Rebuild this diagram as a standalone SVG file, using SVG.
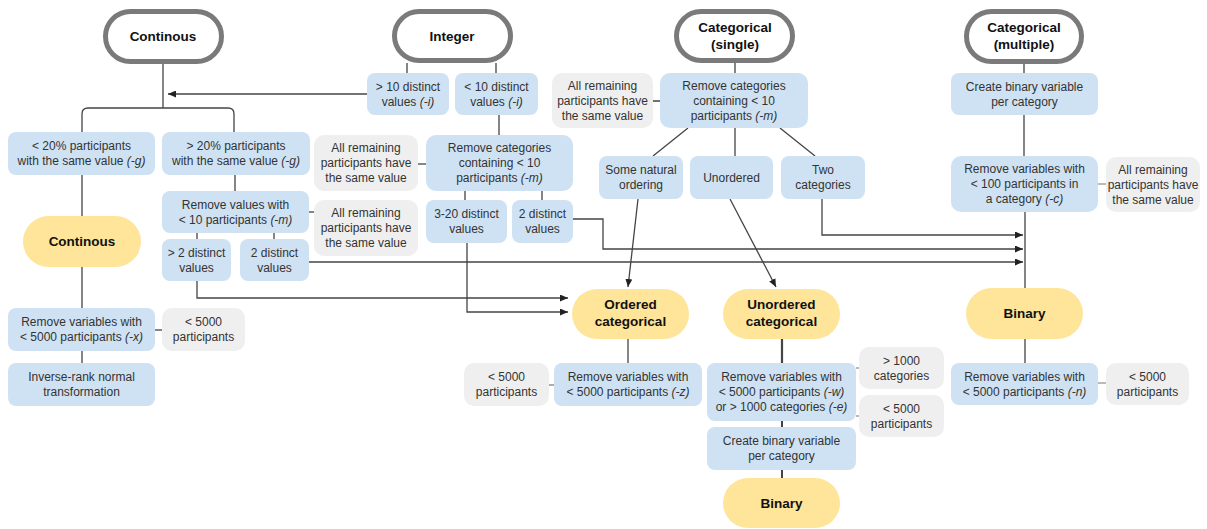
<svg xmlns="http://www.w3.org/2000/svg" width="1207" height="529" viewBox="0 0 1207 529">
<defs>
<marker id="ah" markerUnits="userSpaceOnUse" markerWidth="9" markerHeight="7" refX="8" refY="3.5" orient="auto"><path d="M0,0 L8,3.5 L0,7 Z" fill="#222"/></marker>
<style>
.b{fill:#cfe2f3}
.g{fill:#efefef}
.y{fill:#fee59a}
.t{fill:#fff;stroke:#7a7a7a;stroke-width:5}
text{font-family:"Liberation Sans",Arial,Helvetica,sans-serif;font-size:12px;fill:#333;text-anchor:middle}
.h{font-size:13.5px;font-weight:bold;fill:#111}
.i{font-style:italic}
.c{fill:none;stroke:#444;stroke-width:1.3}
.cl{fill:none;stroke:#777;stroke-width:1.2}
.a{marker-end:url(#ah)}
</style>
</defs>
<rect width="1207" height="529" fill="#fff"/>
<g id="connectors">
<path class="c" d="M163,64 V108"/>
<path class="c" d="M82,132 V114 Q82,108 88,108 H228 Q234,108 234,114 V132"/>
<path class="c a" d="M367,94 H168"/>
<path class="c" d="M82,175 V216 M82,267 V308 M82,351 V363"/>
<path class="c" d="M155,330 H162"/>
<path class="c" d="M235,175 V191 M197,233 V239 M274,233 V239"/>
<path class="c" d="M309,212 H314"/>
<path class="c a" d="M197,281 V298 H568"/>
<path class="c a" d="M309,262 H1023"/>
<path class="c" d="M407,63 V73 M496,63 V73 M499,115 V135"/>
<path class="c" d="M418,164 H426"/>
<path class="c" d="M465,191 V200 M542,191 V200"/>
<path class="c a" d="M467,243 V312 H568"/>
<path class="c a" d="M573,219 H603 V249 H1023"/>
<path class="c" d="M735,63 V73 M653,101 H660"/>
<path class="c" d="M688,128 L653,156 M735,128 V156 M780,128 L815,156"/>
<path class="c a" d="M638,199 L628,287"/>
<path class="c a" d="M730,199 L776,287"/>
<path class="c a" d="M822,199 V235 H1023"/>
<path class="c" d="M628,339 V363"/>
<path class="cl" d="M549,385 H554"/>
<path class="c" d="M782,338 V363" style="stroke-width:2.2"/>
<path class="cl" d="M856,368 H859 M856,416 H859"/>
<path class="c" d="M782,421 V427 M782,470 V478" style="stroke-width:2"/>
<path class="c" d="M1024,64 V73 M1024,115 V156 M1025,212 V288 M1025,339 V363"/>
<path class="cl" d="M1098,184 H1106 M1098,383 H1106"/>
</g>
<g id="term-continous"><rect class="t" x="105.5" y="11.5" width="116" height="50" rx="25"/><text class="h" x="163" y="41">Continous</text></g>
<g id="term-integer"><rect class="t" x="394.5" y="11.5" width="116" height="49" rx="24.5"/><text class="h" x="452" y="41">Integer</text></g>
<g id="term-cat-single"><rect class="t" x="676.5" y="11.5" width="116" height="49" rx="24.5"/><text class="h" x="735" y="32">Categorical</text><text class="h" x="735" y="49">(single)</text></g>
<g id="term-cat-multiple"><rect class="t" x="966.5" y="11.5" width="115" height="50" rx="25"/><text class="h" x="1024" y="32">Categorical</text><text class="h" x="1024" y="49">(multiple)</text></g>

<g id="lt20"><rect class="b" x="8" y="132" width="147" height="43" rx="8"/><text x="81.5" y="150.2">&lt; 20% participants</text><text x="81.5" y="165.2">with the same value <tspan class="i">(-g)</tspan></text></g>
<g id="gt20"><rect class="b" x="162" y="132" width="148" height="43" rx="8"/><text x="236" y="150.2">&gt; 20% participants</text><text x="236" y="165.2">with the same value <tspan class="i">(-g)</tspan></text></g>
<g id="rm-values10"><rect class="b" x="162" y="191" width="147" height="42" rx="8"/><text x="235.5" y="208.7">Remove values with</text><text x="235.5" y="223.7">&lt; 10 participants <tspan class="i">(-m)</tspan></text></g>
<g id="same1"><rect class="g" x="314" y="135" width="104" height="56" rx="10"/><text x="366" y="152.2">All remaining</text><text x="366" y="167.2">participants have</text><text x="366" y="182.2">the same value</text></g>
<g id="same2"><rect class="g" x="314" y="200" width="104" height="56" rx="10"/><text x="366" y="217.2">All remaining</text><text x="366" y="232.2">participants have</text><text x="366" y="247.2">the same value</text></g>
<g id="gt2"><rect class="b" x="162" y="239" width="69" height="42" rx="8"/><text x="196.5" y="256.7">&gt; 2 distinct</text><text x="196.5" y="271.7">values</text></g>
<g id="dist2-c"><rect class="b" x="240" y="239" width="69" height="42" rx="8"/><text x="274.5" y="256.7">2 distinct</text><text x="274.5" y="271.7">values</text></g>
<g id="continous"><rect class="y" x="23" y="216" width="118" height="51" rx="25.5"/><text class="h" x="82" y="246.3">Continous</text></g>
<g id="rm5000x"><rect class="b" x="8" y="308" width="147" height="43" rx="8"/><text x="81.5" y="326.2">Remove variables with</text><text x="81.5" y="341.2">&lt; 5000 participants <tspan class="i">(-x)</tspan></text></g>
<g id="p5000x"><rect class="g" x="162" y="308" width="83" height="43" rx="10"/><text x="203.5" y="326.2">&lt; 5000</text><text x="203.5" y="341.2">participants</text></g>
<g id="irnt"><rect class="b" x="8" y="363" width="147" height="43" rx="8"/><text x="81.5" y="381.2">Inverse-rank normal</text><text x="81.5" y="396.2">transformation</text></g>

<g id="gt10"><rect class="b" x="367" y="73" width="82" height="42" rx="8"/><text x="408" y="90.7">&gt; 10 distinct</text><text x="408" y="105.7">values <tspan class="i">(-i)</tspan></text></g>
<g id="lt10"><rect class="b" x="455" y="73" width="83" height="42" rx="8"/><text x="496.5" y="90.7">&lt; 10 distinct</text><text x="496.5" y="105.7">values <tspan class="i">(-i)</tspan></text></g>
<g id="rmcat-int"><rect class="b" x="426" y="135" width="147" height="56" rx="10"/><text x="499.5" y="152.2">Remove categories</text><text x="499.5" y="167.2">containing &lt; 10</text><text x="499.5" y="182.2">participants <tspan class="i">(-m)</tspan></text></g>
<g id="d320"><rect class="b" x="426" y="200" width="81" height="43" rx="8"/><text x="466.5" y="218.2">3-20 distinct</text><text x="466.5" y="233.2">values</text></g>
<g id="dist2-i"><rect class="b" x="512" y="200" width="61" height="43" rx="8"/><text x="542.5" y="218.2">2 distinct</text><text x="542.5" y="233.2">values</text></g>

<g id="same3"><rect class="g" x="552" y="73" width="101" height="55" rx="10"/><text x="602.5" y="89.7">All remaining</text><text x="602.5" y="104.7">participants have</text><text x="602.5" y="119.7">the same value</text></g>
<g id="rmcat-single"><rect class="b" x="660" y="73" width="148" height="55" rx="10"/><text x="734" y="89.7">Remove categories</text><text x="734" y="104.7">containing &lt; 10</text><text x="734" y="119.7">participants <tspan class="i">(-m)</tspan></text></g>
<g id="natural"><rect class="b" x="599" y="156" width="84" height="43" rx="8"/><text x="641" y="174.2">Some natural</text><text x="641" y="189.2">ordering</text></g>
<g id="unordered"><rect class="b" x="690" y="156" width="83" height="43" rx="8"/><text x="731.5" y="181.7">Unordered</text></g>
<g id="two"><rect class="b" x="781" y="156" width="84" height="43" rx="8"/><text x="823" y="174.2">Two</text><text x="823" y="189.2">categories</text></g>
<g id="ordered-cat"><rect class="y" x="572" y="289" width="117" height="50" rx="25"/><text class="h" x="630.5" y="309.3">Ordered</text><text class="h" x="630.5" y="326.3">categorical</text></g>
<g id="unordered-cat"><rect class="y" x="723" y="289" width="117" height="50" rx="25"/><text class="h" x="781.5" y="309.3">Unordered</text><text class="h" x="781.5" y="326.3">categorical</text></g>
<g id="rm5000z"><rect class="b" x="554" y="363" width="148" height="43" rx="8"/><text x="628" y="381.2">Remove variables with</text><text x="628" y="396.2">&lt; 5000 participants <tspan class="i">(-z)</tspan></text></g>
<g id="p5000z"><rect class="g" x="464" y="363" width="85" height="43" rx="10"/><text x="506.5" y="381.2">&lt; 5000</text><text x="506.5" y="396.2">participants</text></g>
<g id="rm5000we"><rect class="b" x="707" y="363" width="149" height="58" rx="8"/><text x="781.5" y="381.2">Remove variables with</text><text x="781.5" y="396.2">&lt; 5000 participants <tspan class="i">(-w)</tspan></text><text x="781.5" y="411.2">or &gt; 1000 categories <tspan class="i">(-e)</tspan></text></g>
<g id="c1000"><rect class="g" x="859" y="347" width="85" height="42" rx="10"/><text x="901.5" y="364.7">&gt; 1000</text><text x="901.5" y="379.7">categories</text></g>
<g id="p5000w"><rect class="g" x="859" y="395" width="85" height="42" rx="10"/><text x="901.5" y="412.7">&lt; 5000</text><text x="901.5" y="427.7">participants</text></g>
<g id="createbin2"><rect class="b" x="707" y="427" width="149" height="43" rx="8"/><text x="781.5" y="445.2">Create binary variable</text><text x="781.5" y="460.2">per category</text></g>
<g id="binary2"><rect class="y" x="723" y="478" width="117" height="50" rx="25"/><text class="h" x="781.5" y="507.8">Binary</text></g>

<g id="createbin"><rect class="b" x="951" y="73" width="147" height="42" rx="8"/><text x="1024.5" y="90.7">Create binary variable</text><text x="1024.5" y="105.7">per category</text></g>
<g id="rm100"><rect class="b" x="951" y="156" width="147" height="56" rx="10"/><text x="1024.5" y="173.2">Remove variables with</text><text x="1024.5" y="188.2">&lt; 100 participants in</text><text x="1024.5" y="203.2">a category <tspan class="i">(-c)</tspan></text></g>
<g id="same4"><rect class="g" x="1106" y="157" width="94" height="55" rx="10"/><text x="1153" y="173.7">All remaining</text><text x="1153" y="188.7">participants have</text><text x="1153" y="203.7">the same value</text></g>
<g id="binary"><rect class="y" x="966" y="288" width="117" height="51" rx="25.5"/><text class="h" x="1024.5" y="318.3">Binary</text></g>
<g id="rm5000n"><rect class="b" x="951" y="363" width="147" height="42" rx="8"/><text x="1024.5" y="380.7">Remove variables with</text><text x="1024.5" y="395.7">&lt; 5000 participants <tspan class="i">(-n)</tspan></text></g>
<g id="p5000n"><rect class="g" x="1106" y="363" width="83" height="42" rx="10"/><text x="1147.5" y="380.7">&lt; 5000</text><text x="1147.5" y="395.7">participants</text></g>
</svg>
